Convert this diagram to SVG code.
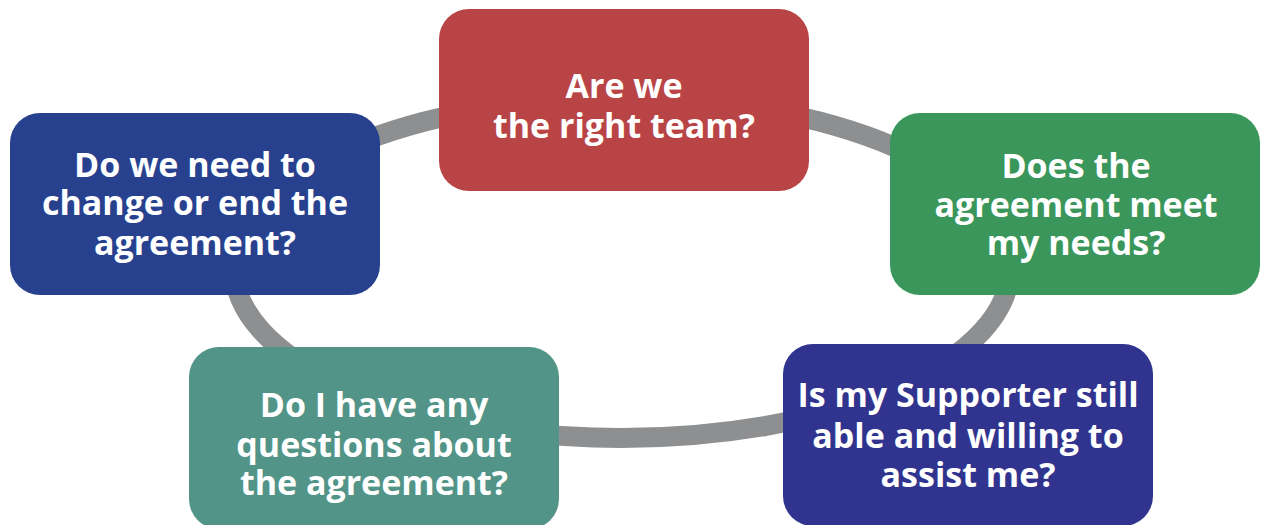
<svg xmlns="http://www.w3.org/2000/svg" width="1262" height="525" viewBox="0 0 1262 525">
<style>
.ring{fill:none;stroke:#8e8f91;stroke-width:20}
.box{stroke:none}
.t{font-family:"Open Sans","Noto Sans","Liberation Sans",sans-serif;font-weight:700;font-size:34px;fill:#ffffff;text-anchor:middle}
</style>
<rect width="1262" height="525" fill="#ffffff"/>
<g id="connectors">
<ellipse class="ring" cx="622" cy="268" rx="388" ry="170"/>
</g>
<g id="node-team">
<rect class="box" x="439" y="9" width="370" height="182" rx="30" fill="#b94445"/>
<text class="t" x="624" y="98">Are we</text>
<text class="t" x="624" y="138">the right team?</text>
</g>
<g id="node-needs">
<rect class="box" x="890" y="113" width="370" height="182" rx="30" fill="#3a965a"/>
<text class="t" x="1076" y="178">Does the</text>
<text class="t" x="1076" y="217">agreement meet</text>
<text class="t" x="1076" y="255">my needs?</text>
</g>
<g id="node-supporter">
<rect class="box" x="783" y="344" width="370" height="182" rx="30" fill="#30348e"/>
<text class="t" x="968" y="407">Is my Supporter still</text>
<text class="t" x="968" y="448">able and willing to</text>
<text class="t" x="968" y="487">assist me?</text>
</g>
<g id="node-questions">
<rect class="box" x="189" y="347" width="370" height="182" rx="30" fill="#529487"/>
<text class="t" x="374" y="417">Do I have any</text>
<text class="t" x="374" y="457">questions about</text>
<text class="t" x="374" y="495">the agreement?</text>
</g>
<g id="node-change">
<rect class="box" x="10" y="113" width="370" height="182" rx="30" fill="#27418f"/>
<text class="t" x="195" y="177">Do we need to</text>
<text class="t" x="195" y="215">change or end the</text>
<text class="t" x="195" y="255">agreement?</text>
</g>
</svg>
